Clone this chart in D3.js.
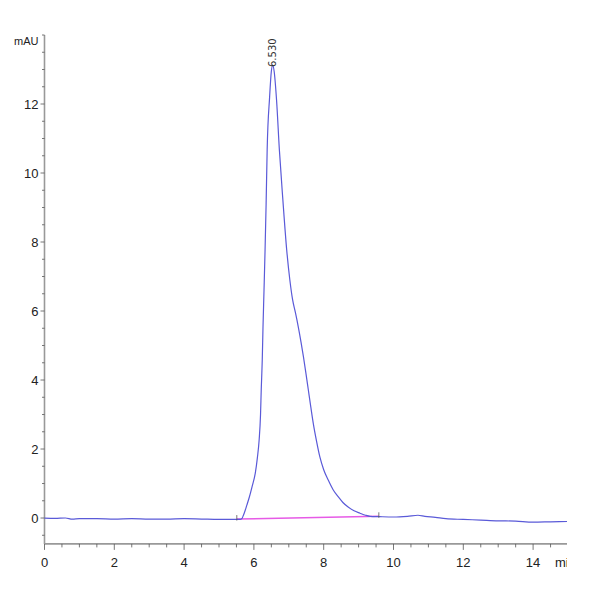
<!DOCTYPE html>
<html>
<head>
<meta charset="utf-8">
<script src="https://cdn.jsdelivr.net/npm/d3@7/dist/d3.min.js"></script>
<style>
body{margin:0;background:#fff;}
svg{display:block;}
</style>
</head>
<body>
<svg id="chart" width="600" height="600"></svg>
<script>
// Chromatogram trace (time in min, signal in mAU)
const times = [0.0,0.3,0.6,0.8,1.0,1.5,2.0,2.5,3.0,3.5,4.0,4.5,5.0,5.4,5.6,5.65,5.7,5.8,5.87,5.95,6.04,6.10,6.15,6.19,6.21,6.24,6.26,6.29,6.32,6.35,6.38,6.45,6.50,6.54,6.58,6.65,6.73,6.83,6.94,7.03,7.11,7.19,7.27,7.35,7.42,7.49,7.56,7.63,7.70,7.80,7.89,8.00,8.13,8.27,8.42,8.55,8.70,8.87,9.04,9.2,9.33,9.6,10.0,10.4,10.7,10.9,11.2,11.5,12.0,12.5,13.0,13.5,14.0,14.5,15.0];
const signal = [0.00,-0.01,0.00,-0.03,-0.02,-0.02,-0.03,-0.02,-0.03,-0.03,-0.02,-0.03,-0.04,-0.04,-0.04,-0.02,0.08,0.38,0.61,0.92,1.30,1.75,2.26,3.0,3.71,4.6,5.5,6.61,7.77,9.1,10.67,12.2,12.95,13.13,12.95,12.1,10.67,9.22,7.77,6.9,6.32,5.95,5.55,5.1,4.67,4.2,3.71,3.22,2.75,2.2,1.77,1.40,1.10,0.82,0.61,0.45,0.32,0.21,0.14,0.08,0.05,0.04,0.03,0.05,0.08,0.05,0.02,-0.02,-0.04,-0.06,-0.08,-0.09,-0.12,-0.11,-0.10];
// Integration baseline (start, end)
const baseTimes = [5.51, 9.58];
const baseValues = [-0.03, 0.05];
const peakTime = 6.53;
const peakValue = 13.13;
const peakLabel = "6.530";
const xMajorTicks = [0,2,4,6,8,10,12,14];
const yMajorTicks = [0,2,4,6,8,10,12];
const xUnit = "min";
const yUnit = "mAU";

const svg = d3.select("#chart");
const font = "'Liberation Sans Narrow','Arial Narrow','Liberation Sans',Arial,sans-serif";

const x = d3.scaleLinear().domain([0,15]).range([44.5, 44.5 + 15*34.9]);
const y = d3.scaleLinear().domain([-0.75,14]).range([543.9, 35]);

svg.append("defs").append("clipPath").attr("id","clip")
  .append("rect").attr("x",0).attr("y",0).attr("width",567).attr("height",600);

const g = svg.append("g").attr("clip-path","url(#clip)");

const xMinor = d3.range(0, 15.01, 0.5);
const yMinor = d3.range(-0.5, 14.01, 0.5);

// X axis
const xAxisY = y(-0.75);
const gx = g.append("g").attr("transform",`translate(0,${xAxisY})`);
gx.append("line").attr("x1",x(0)).attr("x2",x(15)).attr("y1",0).attr("y2",0)
  .attr("stroke","#999").attr("stroke-width",1.6);
gx.selectAll("line.minor").data(xMinor).enter().append("line").attr("class","minor")
  .attr("x1",d=>x(d)).attr("x2",d=>x(d)).attr("y1",0)
  .attr("y2",d=>xMajorTicks.includes(d)?6:3.5)
  .attr("stroke","#555").attr("stroke-width",0.8);
gx.selectAll("text").data(xMajorTicks).enter().append("text")
  .attr("x",d=>x(d)).attr("y",23).attr("text-anchor","middle")
  .attr("font-family",font).attr("font-size",13).attr("fill","#222").text(d=>d);
gx.append("text").attr("x",555).attr("y",23).attr("text-anchor","start")
  .attr("font-family",font).attr("font-size",13).attr("fill","#222").text(xUnit);

// Y axis
const gy = g.append("g").attr("transform",`translate(${x(0)},0)`);
gy.append("line").attr("x1",0).attr("x2",0).attr("y1",y(14)).attr("y2",y(-0.75))
  .attr("stroke","#999").attr("stroke-width",1.6);
gy.selectAll("line.minor").data(yMinor).enter().append("line").attr("class","minor")
  .attr("x1",0).attr("x2",d=>yMajorTicks.includes(d)?-4:-2.5)
  .attr("y1",d=>y(d)).attr("y2",d=>y(d))
  .attr("stroke","#555").attr("stroke-width",0.8);
gy.selectAll("text").data(yMajorTicks).enter().append("text")
  .attr("x",-6).attr("y",d=>y(d)+4.5).attr("text-anchor","end")
  .attr("font-family",font).attr("font-size",13).attr("fill","#222").text(d=>d);
gy.append("text").attr("x",-6).attr("y",y(14)+10).attr("text-anchor","end")
  .attr("font-family",font).attr("font-size",11).attr("fill","#222").text(yUnit);

// Integration baseline
const line = d3.line().x(d=>x(d[0])).y(d=>y(d[1]));
g.append("path").datum(d3.zip(baseTimes, baseValues)).attr("d", line)
  .attr("fill","none").attr("stroke","#e65ae6").attr("stroke-width",1.6);

// Trace
g.append("path").datum(d3.zip(times, signal)).attr("d", line.curve(d3.curveMonotoneX))
  .attr("fill","none").attr("stroke","#5a5ad8").attr("stroke-width",1.2);

// Integration markers
baseTimes.forEach((t,i)=>{
  g.append("line").attr("x1",x(t)).attr("x2",x(t))
    .attr("y1",y(baseValues[i])-4).attr("y2",y(baseValues[i])+1.5)
    .attr("stroke","#555").attr("stroke-width",0.8);
});

// Peak label
g.append("text")
  .attr("transform",`translate(${x(peakTime)+3.5},${y(peakValue)+2}) rotate(-90)`)
  .attr("font-family","'DejaVu Sans',sans-serif").attr("font-size",10).attr("fill","#333")
  .text(peakLabel);
</script>
</body>
</html>
